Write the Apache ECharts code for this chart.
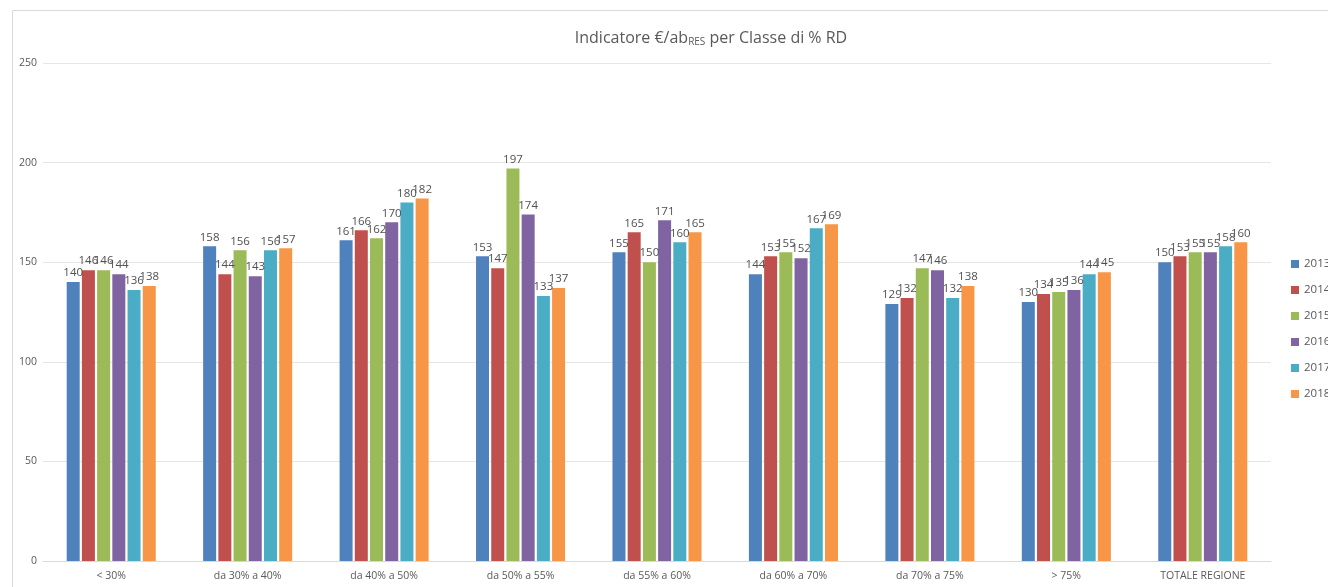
<!DOCTYPE html>
<html>
<head>
<meta charset="utf-8">
<script src="https://cdn.jsdelivr.net/npm/echarts@6/dist/echarts.min.js"></script>
<style>
html,body{margin:0;padding:0;background:#fff;}
#chart{width:1328px;height:587px;}
</style>
</head>
<body>
<div id="chart"></div>
<script>
// Classes of separate-collection percentage
const categories = ['< 30%', 'da 30% a 40%', 'da 40% a 50%', 'da 50% a 55%', 'da 55% a 60%', 'da 60% a 70%', 'da 70% a 75%', '> 75%', 'TOTALE REGIONE'];
const years = ['2013', '2014', '2015', '2016', '2017', '2018'];

// €/inhabitant per year, one value per class
const v2013 = [140, 158, 161, 153, 155, 144, 129, 130, 150];
const v2014 = [146, 144, 166, 147, 165, 153, 132, 134, 153];
const v2015 = [146, 156, 162, 197, 150, 155, 147, 135, 155];
const v2016 = [144, 143, 170, 174, 171, 152, 146, 136, 155];
const v2017 = [136, 156, 180, 133, 160, 167, 132, 144, 158];
const v2018 = [138, 157, 182, 137, 165, 169, 138, 145, 160];

const yearValues = [v2013, v2014, v2015, v2016, v2017, v2018];
const colors = ['#4F81BD', '#C0504D', '#9BBB59', '#8064A2', '#4BACC6', '#F79646'];
const FONT = 'Open Sans, Noto Sans, sans-serif';

const chart = echarts.init(document.getElementById('chart'));

const series = years.map((y, i) => ({
  name: y,
  type: 'bar',
  data: yearValues[i],
  barWidth: 13,
  barGap: '17%',
  itemStyle: { color: colors[i] },
  label: {
    show: true,
    position: 'top',
    distance: 3,
    color: '#505050',
    fontSize: 11.5,
    fontFamily: FONT
  }
}));

chart.setOption({
  backgroundColor: '#ffffff',
  animation: false,
  title: {
    text: 'Indicatore €/ab{sub|RES} per Classe di % RD',
    left: 706,
    textAlign: 'center',
    top: 24,
    textStyle: {
      color: '#595959',
      fontSize: 16,
      fontWeight: 'normal',
      fontFamily: FONT,
      rich: {
        sub: { fontSize: 10, color: '#595959', verticalAlign: 'bottom', padding: [8, 0, 0, 0], fontFamily: FONT }
      }
    }
  },
  graphic: [{
    type: 'rect',
    shape: { x: 12.5, y: 10.5, width: 1330, height: 600 },
    style: { fill: 'none', stroke: '#D9D9D9', lineWidth: 1 },
    silent: true,
    z: -1
  }],
  legend: {
    orient: 'vertical',
    left: 1286,
    top: 253,
    itemWidth: 8,
    itemHeight: 8,
    itemGap: 14,
    icon: 'rect',
    textStyle: { color: '#595959', fontSize: 11.5, fontFamily: FONT },
    data: years
  },
  grid: { left: 43, right: 57, top: 63, bottom: 26, containLabel: false },
  xAxis: {
    type: 'category',
    data: categories,
    axisLine: { lineStyle: { color: '#D9D9D9' } },
    axisTick: { show: false },
    axisLabel: { color: '#595959', fontSize: 10.5, margin: 10, fontFamily: FONT }
  },
  yAxis: {
    type: 'value',
    min: 0,
    max: 250,
    interval: 50,
    axisLine: { show: false },
    axisTick: { show: false },
    axisLabel: { color: '#595959', fontSize: 10.5, margin: 6, fontFamily: FONT },
    splitLine: { lineStyle: { color: '#E6E6E6' } }
  },
  series: series
});
</script>
</body>
</html>
